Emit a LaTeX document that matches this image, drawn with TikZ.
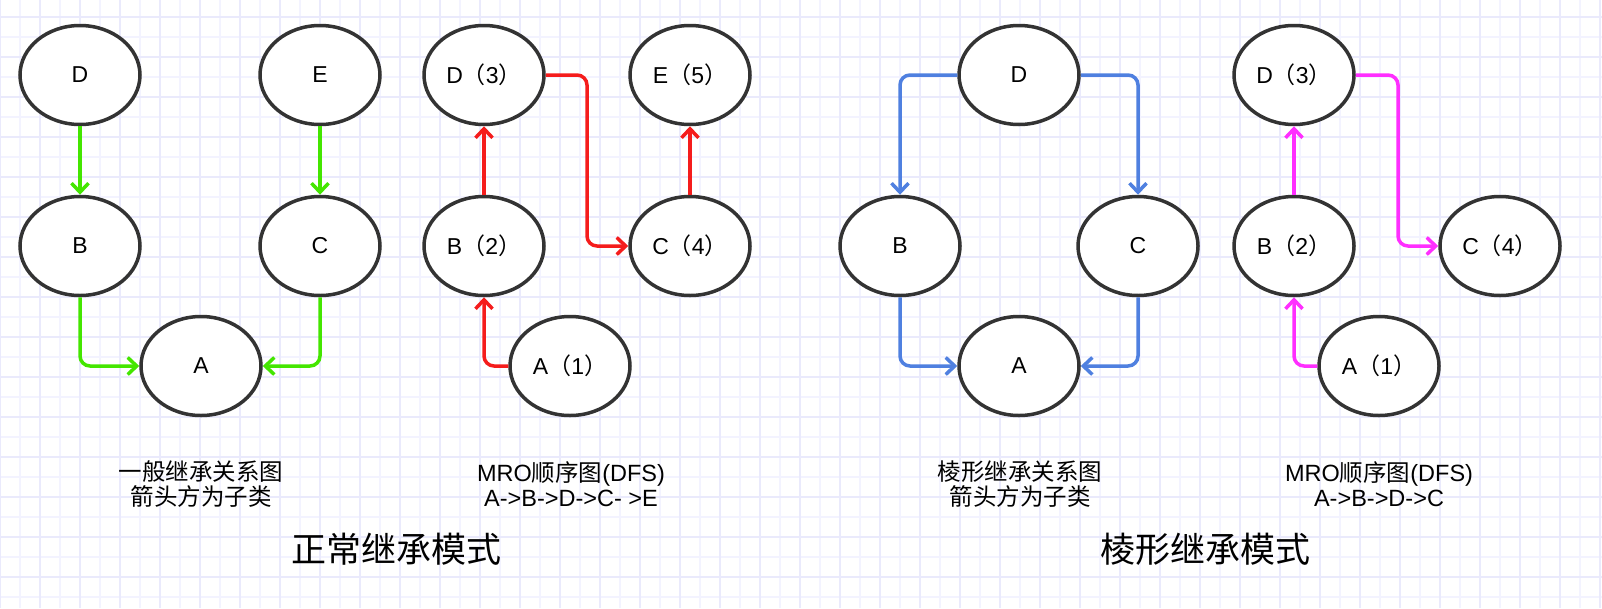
\documentclass[tikz,border=0pt]{standalone}
\usepackage{fontspec}
\setmainfont{Liberation Sans}
\newfontfamily\cjk{Noto Sans CJK SC}
\usetikzlibrary{shapes.geometric,arrows.meta}
\definecolor{gridminor}{HTML}{F3F3FF}
\definecolor{gridmajor}{HTML}{EAEAFC}
\definecolor{edgegray}{HTML}{333333}
\definecolor{cgreen}{HTML}{44E600}
\definecolor{cred}{HTML}{F51C1C}
\definecolor{cblue}{HTML}{4F80E0}
\definecolor{cmag}{HTML}{FF2EFF}
\tikzset{
  cls/.style={ellipse, draw=edgegray, line width=3.5pt, fill=white,
    minimum width=120pt, minimum height=99pt, inner sep=0pt,
    font=\fontsize{23}{26}\selectfont},
  conn/.style={line width=3.5pt, rounded corners=10pt,
    -{Straight Barb[length=9pt,width=17pt]}},
  captext/.style={align=center, font=\fontsize{23.5}{25}\selectfont, inner sep=0pt},
  ttltext/.style={font=\fontsize{35}{40}\selectfont\cjk, inner sep=0pt}
}
\begin{document}
\begin{tikzpicture}[x=1pt,y=-1pt]
\useasboundingbox (0,0) rectangle (1602,608);
\fill[white] (0,0) rectangle (1602,608);
% grid
\foreach \x in {20,60,...,1600} \draw[gridminor,line width=1.5pt] (\x,0) -- (\x,608);
\foreach \y in {37,77,...,608} \draw[gridminor,line width=1.5pt] (0,\y) -- (1602,\y);
\foreach \x in {0,40,...,1600} \draw[gridmajor,line width=1.5pt] (\x,0) -- (\x,608);
\foreach \y in {17,57,...,608} \draw[gridmajor,line width=1.5pt] (0,\y) -- (1602,\y);

% ---- panel 1: normal inheritance
\node[cls] (gD) at (80,75) {D};
\node[cls] (gE) at (320,75) {E};
\node[cls] (gB) at (80,246) {B};
\node[cls] (gC) at (320,246) {C};
\node[cls] (gA) at (201,366) {A};
\draw[conn,cgreen] (gD.south) -- (gB.north);
\draw[conn,cgreen] (gE.south) -- (gC.north);
\draw[conn,cgreen] (gB.south) |- (gA.west);
\draw[conn,cgreen] (gC.south) |- (gA.east);

% ---- panel 2: MRO DFS
\node[cls] (rD) at (484,75) {D{\cjk （}3{\cjk ）}};
\node[cls] (rE) at (690,75) {E{\cjk （}5{\cjk ）}};
\node[cls] (rB) at (484,246) {B{\cjk （}2{\cjk ）}};
\node[cls] (rC) at (690,246) {C{\cjk （}4{\cjk ）}};
\node[cls] (rA) at (570,366) {A{\cjk （}1{\cjk ）}};
\coordinate (rmid) at (587,160);
\draw[conn,cred] (rA.west) -| (rB.south);
\draw[conn,cred] (rB.north) -- (rD.south);
\draw[conn,cred] (rD.east) -| (rmid) |- (rC.west);
\draw[conn,cred] (rC.north) -- (rE.south);

% ---- panel 3: diamond inheritance
\node[cls] (bD) at (1019,75) {D};
\node[cls] (bB) at (900,246) {B};
\node[cls] (bC) at (1138,246) {C};
\node[cls] (bA) at (1019,366) {A};
\draw[conn,cblue] (bD.west) -| (bB.north);
\draw[conn,cblue] (bD.east) -| (bC.north);
\draw[conn,cblue] (bB.south) |- (bA.west);
\draw[conn,cblue] (bC.south) |- (bA.east);

% ---- panel 4: MRO DFS diamond
\node[cls] (mD) at (1294,75) {D{\cjk （}3{\cjk ）}};
\node[cls] (mB) at (1294,246) {B{\cjk （}2{\cjk ）}};
\node[cls] (mC) at (1500,246) {C{\cjk （}4{\cjk ）}};
\node[cls] (mA) at (1379,366) {A{\cjk （}1{\cjk ）}};
\coordinate (mmid) at (1398,160);
\draw[conn,cmag] (mA.west) -| (mB.south);
\draw[conn,cmag] (mB.north) -- (mD.south);
\draw[conn,cmag] (mD.east) -| (mmid) |- (mC.west);

% ---- captions
\node[captext] (cap1) at (201,484.5) {{\cjk 一般继承关系图}\\{\cjk 箭头方为子类}};
\node[captext] (cap2) at (571,484.5) {MRO{\cjk 顺序图}(DFS)\\A->B->D->C- >E};
\node[captext] (cap3) at (1020,484.5) {{\cjk 棱形继承关系图}\\{\cjk 箭头方为子类}};
\node[captext] (cap4) at (1379,484.5) {MRO{\cjk 顺序图}(DFS)\\A->B->D->C};
\node[ttltext] (ttl1) at (396,549) {正常继承模式};
\node[ttltext] (ttl2) at (1205,549) {棱形继承模式};
\end{tikzpicture}
\end{document}
